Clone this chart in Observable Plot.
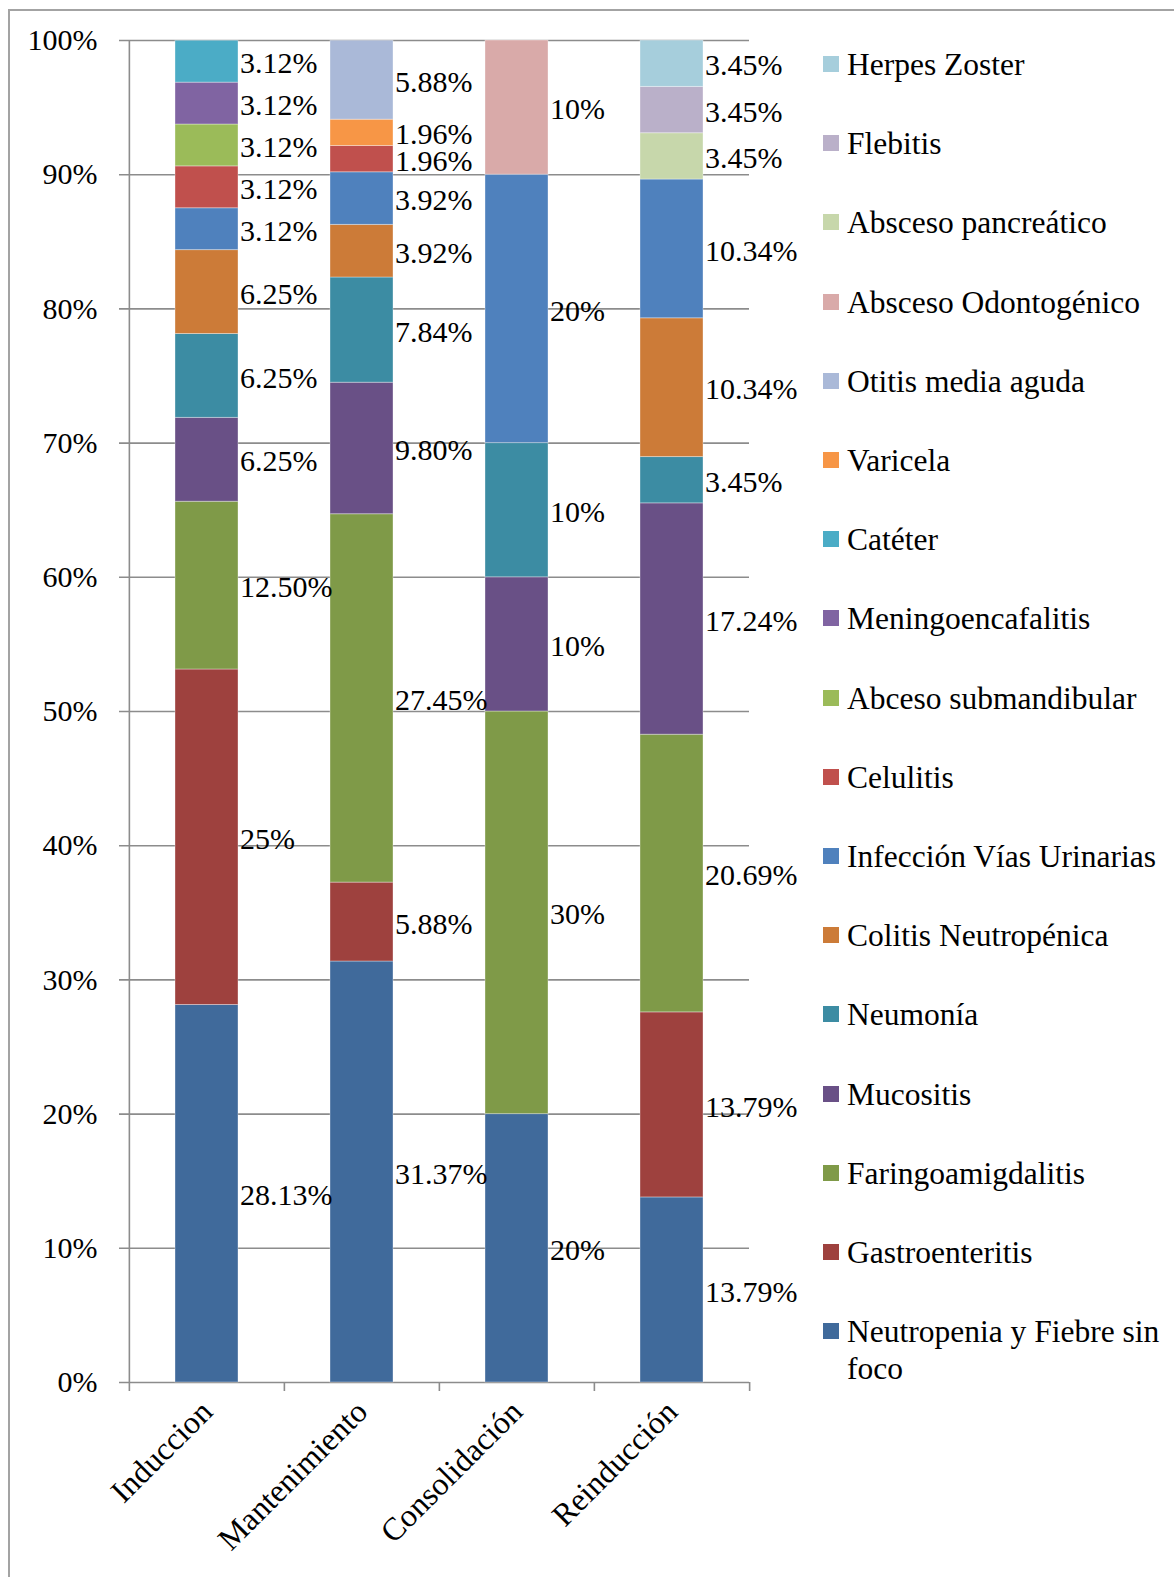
<!DOCTYPE html>
<html><head><meta charset="utf-8">
<script src="https://cdn.jsdelivr.net/npm/d3@7"></script>
<script src="https://cdn.jsdelivr.net/npm/@observablehq/plot@0.6"></script>
<style>
body{margin:0;background:#fff;width:1174px;height:1577px;overflow:hidden;position:relative;font-family:"Liberation Serif","Times New Roman",serif;}
#frame{position:absolute;left:8px;top:9px;width:1200px;height:1600px;border-top:2px solid #a3a3a3;border-left:2px solid #a3a3a3;}
#chart{position:absolute;left:0;top:0;}
#legend{position:absolute;left:823px;top:0;}
.item{position:absolute;left:0;width:345px;font-size:31.5px;line-height:37px;color:#000;}
.sw{position:absolute;left:0;width:16px;height:16px;top:10px;}
.lab{position:absolute;left:24px;width:325px;white-space:normal;}
</style></head>
<body>
<div id="frame"></div>
<div id="chart"></div>
<div id="legend"></div>
<script>
const phases = ["Induccion", "Mantenimiento", "Consolidación", "Reinducción"];
const diseases = ["Neutropenia y Fiebre sin foco", "Gastroenteritis", "Faringoamigdalitis", "Mucositis", "Neumonía", "Colitis Neutropénica", "Infección Vías Urinarias", "Celulitis", "Abceso submandibular", "Meningoencafalitis", "Catéter", "Varicela", "Otitis media aguda", "Absceso Odontogénico", "Absceso pancreático", "Flebitis", "Herpes Zoster"];
const colors = ["#406A9B", "#9E413E", "#7F9A48", "#695086", "#3C8CA3", "#CC7B38", "#4F81BD", "#C0504D", "#9BBB59", "#8064A2", "#4BACC6", "#F79646", "#AAB9D8", "#D9AAA9", "#C7D7AB", "#BAB0C9", "#A6CEDC"];
// values (%) in the same order as diseases
const induccion     = [28.13, 25, 12.50, 6.25, 6.25, 6.25, 3.12, 3.12, 3.12, 3.12, 3.12, 0, 0, 0, 0, 0, 0];
const mantenimiento = [31.37, 5.88, 27.45, 9.80, 7.84, 3.92, 3.92, 1.96, 0, 0, 0, 1.96, 5.88, 0, 0, 0, 0];
const consolidacion = [20, 0, 30, 10, 10, 0, 20, 0, 0, 0, 0, 0, 0, 10, 0, 0, 0];
const reinduccion   = [13.79, 13.79, 20.69, 17.24, 3.45, 10.34, 10.34, 0, 0, 0, 0, 0, 0, 0, 3.45, 3.45, 3.45];
const yTicks = [0, 10, 20, 30, 40, 50, 60, 70, 80, 90, 100];

(function () {
const series = [induccion, mantenimiento, consolidacion, reinduccion];
const rows = [];
phases.forEach((p, pi) => diseases.forEach((d, di) => {
  const v = series[pi][di];
  if (v > 0) rows.push({phase: p, disease: d, value: v});
}));
const fmt = v => Number.isInteger(v) ? v + "%" : v.toFixed(2) + "%";

const W = 790, H = 1560;
const pLeft = 128, pRight = 749, pTop = 40, pBottom = 1382;
const step = (pRight - pLeft) / phases.length;
const plotH = pBottom - pTop;
const grey = "#8c8c8c";

const chart = Plot.plot({
  width: W, height: H,
  marginLeft: pLeft, marginRight: W - pRight, marginTop: pTop, marginBottom: H - pBottom,
  style: {fontFamily: "Liberation Serif, Times New Roman, serif", fontSize: "30px", color: "#000", background: "transparent", overflow: "visible"},
  x: {domain: phases, paddingInner: 0.594, paddingOuter: 0.297, label: null},
  y: {domain: [0, 100], label: null},
  color: {domain: diseases, range: colors},
  marks: [
    Plot.ruleY(yTicks, {stroke: grey, strokeWidth: 1.6, insetLeft: -9}),
    Plot.barY(rows, {x: "phase", y: "value", fill: "disease", order: diseases, stroke: "#ffffff", strokeOpacity: 0.35, strokeWidth: 1}),
    Plot.text(rows, Plot.stackY({x: "phase", y: "value", z: "disease", order: diseases,
      text: d => fmt(d.value), textAnchor: "start", dx: 33, dy: 2, fontSize: 30, fill: "#000"})),
    Plot.ruleX(phases, {x: d => d, dx: -step / 2, insetTop: plotH, insetBottom: -9, stroke: grey, strokeWidth: 1.6}),
    Plot.ruleX([phases[phases.length - 1]], {x: d => d, dx: step / 2, insetTop: plotH, insetBottom: -9, stroke: grey, strokeWidth: 1.6}),
    Plot.ruleX([phases[0]], {x: d => d, dx: -step / 2, stroke: grey, strokeWidth: 1.6}),
    Plot.axisY({ticks: yTicks, tickFormat: d => d + "%", tickSize: 0, tickPadding: 31, fontSize: 30}),
    Plot.axisX({tickSize: 0, tickRotate: -45, tickPadding: 24, fontSize: 32, label: null})
  ]
});
document.getElementById("chart").appendChild(chart);

const legend = document.getElementById("legend");
diseases.slice().reverse().forEach((d, i) => {
  const c = colors[diseases.indexOf(d)];
  const center = 64.5 + i * 79.2;
  const item = document.createElement("div");
  item.className = "item";
  item.style.top = (center - 18.5) + "px";
  item.innerHTML = `<div class="sw" style="background:${c}"></div><div class="lab">${d}</div>`;
  legend.appendChild(item);
});
})();
</script>
</body></html>
